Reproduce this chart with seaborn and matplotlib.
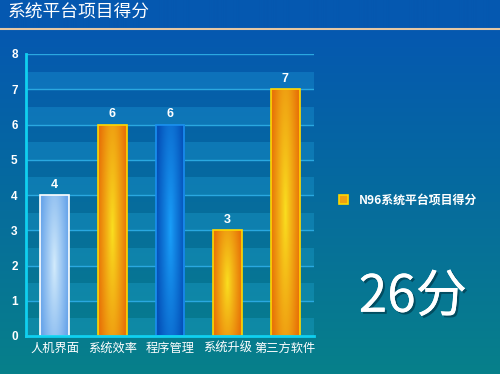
import numpy as np
import pandas as pd
import matplotlib
matplotlib.use("Agg")
import matplotlib.pyplot as plt
import matplotlib.colors as mcolors
from matplotlib.patches import Patch
import matplotlib.patheffects as pe
import seaborn as sns

# ---- data ----
title = "系统平台项目得分"
categories = ["人机界面", "系统效率", "程序管理", "系统升级", "第三方软件"]
scores = [4, 6, 6, 3, 7]
series_name = "N96系统平台项目得分"
total_label = "26分"
y_ticks = [0, 1, 2, 3, 4, 5, 6, 7, 8]

sns.set_style("white")
plt.rcParams["font.family"] = ["Noto Sans CJK SC", "DejaVu Sans"]

fig = plt.figure(figsize=(5.0, 3.74), dpi=100)

# background gradient
bg = fig.add_axes([0, 0, 1, 1], zorder=-10)
top_c = np.array(mcolors.to_rgb("#0558b0"))
bot_c = np.array(mcolors.to_rgb("#07808a"))
t = np.linspace(0, 1, 374)
t = np.clip((t - 0.08) / 0.92, 0, 1)
grad = top_c[None, :] * (1 - t[:, None]) + bot_c[None, :] * t[:, None]
bg.imshow(grad[:, None, :].repeat(10, axis=1), aspect="auto", extent=[0, 1, 0, 1], origin="upper")
bg.axis("off")
bg.set_xlim(0, 1); bg.set_ylim(0, 1)
# separator line under title
bg.plot([0, 1], [1 - 28.5 / 374, 1 - 28.5 / 374], color="#e6c8a4", lw=1.5)
fig.text(8 / 500, 1 - 13 / 374, title, color="white", fontsize=12.8, va="center", ha="left")

ax = fig.add_axes([26 / 500, 1 - 336 / 374, (314 - 26) / 500, (336 - 54) / 374])
ax.patch.set_alpha(0)

df = pd.DataFrame({"category": categories, "score": scores})
sns.barplot(data=df, x="category", y="score", hue="category", palette=["#8cc0f0", "#f0a010", "#0a70d8", "#f0a010", "#f0a010"],
            width=0.5, legend=False, ax=ax, zorder=3, saturation=1)

# stripes & grid
for i in range(8):
    ax.axhspan(i, i + 0.5, color="#30c8ff", alpha=0.2, lw=0, zorder=0)
    ax.axhline(i + 1, color="#2aa8e0", lw=1.0, zorder=1)

styles = [
    ("#d4ecfc", "#6aa6ea", "white"),
    ("#fae020", "#e87408", "#ffd800"),
    ("#1aa0fa", "#0450b8", "#1a90f0"),
    ("#fae020", "#e87408", "#ffd800"),
    ("#fae020", "#e87408", "#ffd800"),
]
for p, (cc, ec, edge) in zip(ax.patches, styles):
    x0, y0 = p.get_x(), p.get_y()
    w, h = p.get_width(), p.get_height()
    nx, ny = 60, 200
    u = np.linspace(-1, 1, nx)[None, :]
    v = np.linspace(-1, 1, ny)[:, None]
    r = np.clip(np.sqrt(u ** 2 + (0.55 * v) ** 2), 0, 1) ** 0.9
    c1 = np.array(mcolors.to_rgb(cc)); c2 = np.array(mcolors.to_rgb(ec))
    img = c1[None, None, :] * (1 - r[..., None]) + c2[None, None, :] * r[..., None]
    im = ax.imshow(img, extent=[x0, x0 + w, y0, y0 + h], aspect="auto", zorder=3.5, origin="lower")
    im.set_clip_path(p)
    p.set_edgecolor(edge)
    p.set_linewidth(1.2)
    p.set_zorder(4)
    p.set_facecolor("none")
    ax.text(x0 + w / 2, h + 0.12, f"{h:g}", color="white", fontsize=9, fontweight="bold",
            ha="center", va="bottom", family=["Liberation Sans", "DejaVu Sans"], zorder=5)

ax.set_xlim(-0.5, 4.5)
ax.set_ylim(0, 8)
ax.set_yticks(y_ticks)
ax.set_yticklabels([str(v) for v in y_ticks], color="white", fontsize=8.5, fontweight="bold",
                   family=["Liberation Sans", "DejaVu Sans"])
ax.set_xticks(range(len(categories)))
ax.set_xticklabels(categories, color="white", fontsize=8.8)
ax.set_xticks(np.arange(-0.5, 5.0, 1.0), minor=True)
ax.tick_params(axis="x", which="major", length=0, pad=4)
ax.tick_params(axis="x", which="minor", length=4, width=1.5, color="#10d0f0", direction="out")
ax.tick_params(axis="y", length=4, width=1.5, color="#10d0f0", direction="out", pad=2)
ax.set_xlabel(""); ax.set_ylabel("")
for s in ["top", "right"]:
    ax.spines[s].set_visible(False)
for s in ["left", "bottom"]:
    ax.spines[s].set_color("#10d0f0")
    ax.spines[s].set_linewidth(2)
    ax.spines[s].set_zorder(6)

handle = Patch(facecolor="#f0a010", edgecolor="#ffd800", lw=1.2)
leg = ax.legend([handle], [series_name], loc="center left", bbox_to_anchor=(334 / 500, 1 - 200 / 374),
                bbox_transform=fig.transFigure, frameon=False, handlelength=0.75, handleheight=0.75,
                handletextpad=0.9, borderaxespad=0, prop={"size": 8.6, "weight": "bold"})
for txt in leg.get_texts():
    txt.set_color("white")

fig.text(413 / 500, 1 - 297 / 374, total_label, color="white", fontsize=37, ha="center", va="center",
         fontweight="light",
         path_effects=[pe.withSimplePatchShadow(offset=(1.5, -1.5), shadow_rgbFace="#003040", alpha=0.6), pe.Normal()])

fig.savefig("out.png", dpi=100)
